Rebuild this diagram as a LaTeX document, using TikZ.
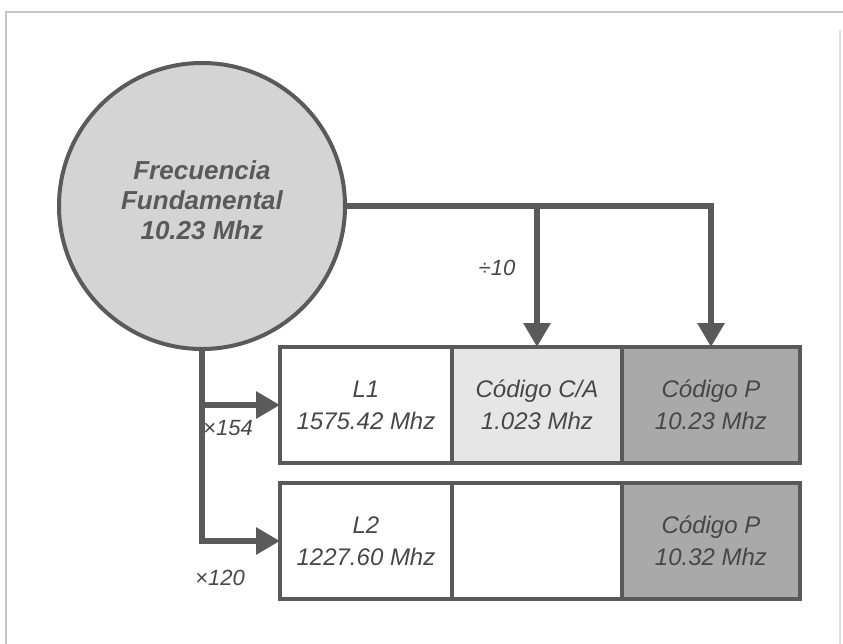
\documentclass[tikz,border=0pt]{standalone}
\usepackage{fontspec}
\setmainfont{Liberation Sans}
\usetikzlibrary{arrows.meta,positioning}

\definecolor{linegray}{HTML}{5A5A5A}
\definecolor{circfill}{HTML}{D4D4D4}
\definecolor{cafill}{HTML}{E6E6E6}
\definecolor{pfill}{HTML}{A9A9A9}
\definecolor{textgray}{HTML}{474747}

\tikzset{
  cell/.style={rectangle, draw=linegray, line width=2pt, outer sep=0pt, inner sep=0pt,
    minimum height=58pt, align=center, text=textgray,
    font=\fontsize{12}{16}\selectfont\itshape},
  link/.style={draw=linegray, line width=3pt, -{Triangle[length=12pt,width=13pt]}},
  lbl/.style={text=textgray, font=\fontsize{11}{13}\selectfont\itshape},
}

\begin{document}
\begin{tikzpicture}[x=0.5pt,y=-0.5pt]
    \useasboundingbox (0,0) rectangle (843,644);
    % page frame of the scan
    \draw[gray!45, line width=1pt] (6,644) -- (6,12) -- (843,12);
    \draw[gray!25, line width=0.8pt] (840,30) -- (840,644);

    % source
    \node[circle, draw=linegray, line width=2pt, fill=circfill, minimum size=143pt,
          align=center, text=linegray, font=\fontsize{13}{15}\selectfont\bfseries\itshape]
          (freq) at (202,206) {Frecuencia\\Fundamental\\10.23 Mhz\\[-9pt]};

    % first carrier
    \node[cell, minimum width=86pt, anchor=north west] (l1) at (280,347) {L1\\1575.42 Mhz};
    \node[cell, minimum width=85pt, fill=cafill, right=0pt of l1] (ca) {Código C/A\\1.023 Mhz};
    \node[cell, minimum width=89pt, fill=pfill, right=0pt of ca] (p1) {Código P\\10.23 Mhz};

    % second carrier
    \node[cell, minimum width=86pt, anchor=north west] (l2) at (280,483) {L2\\1227.60 Mhz};
    \node[cell, minimum width=85pt, right=0pt of l2] (empty) {};
    \node[cell, minimum width=89pt, fill=pfill, right=0pt of empty] (p2) {Código P\\10.32 Mhz};

    % links
    \draw[link] (freq.east) -| (p1.north);
    \draw[link] (freq.east -| ca.north) -- (ca.north);
    \draw[link] (freq.south) |- (l2.west);
    \draw[link] (freq.south |- l1.west) -- (l1.west);

    % factors
    \node[lbl] (div) at (497,268) {÷10};
    \node[lbl] (m154) at (228,428) {×154};
    \node[lbl] (m120) at (220,578) {×120};
\end{tikzpicture}
\end{document}
